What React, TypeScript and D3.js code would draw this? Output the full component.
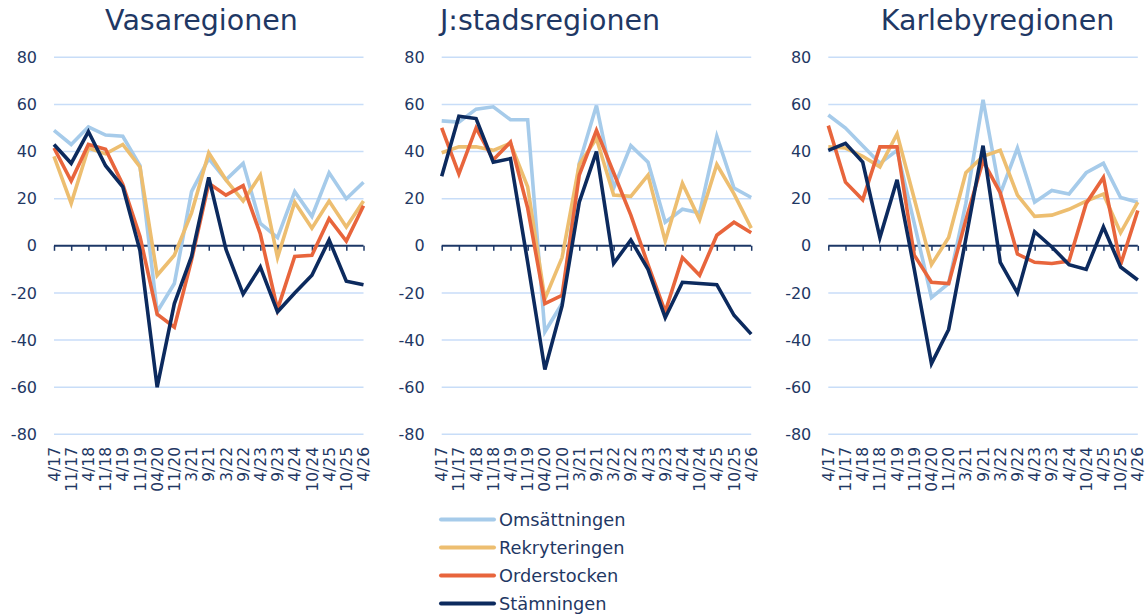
import React, { useEffect, useRef } from 'react'
import * as d3 from 'd3'

// period labels on the x axis (same for all three regions)
const periods = ['4/17', '11/17', '4/18', '11/18', '4/19', '11/19', '04/20', '11/20', '3/21', '9/21',
  '3/22', '9/22', '4/23', '9/23', '4/24', '10/24', '4/25', '10/25', '4/26']

const yTicks = [80, 60, 40, 20, 0, -20, -40, -60, -80]

const seriesNames = ['Omsättningen', 'Rekryteringen', 'Orderstocken', 'Stämningen']
const seriesColors = ['#A6CBEA', '#EDBE70', '#E8653C', '#0C2A5E']

// Vasaregionen
const omsVasa = [49, 43, 50.5, 47, 46.5, 34, -28, -16, 23, 37, 28, 35, 9.5, 3.5, 23, 12.5, 31, 20, 27]
const rekVasa = [38, 18, 41.5, 39, 43, 33.5, -12.5, -4, 14, 39.5, 28, 19, 30, -5, 18.5, 7.5, 19, 8, 19]
const ordVasa = [41.5, 27.5, 43, 41, 26, 4, -29, -34.5, -6, 26.5, 21.5, 25.5, 5, -27, -4.5, -4, 11.5, 2, 17]
const stmVasa = [43, 35, 48.5, 34, 25, -2, -60, -24.5, -4.5, 29, -1.5, -20.5, -9, -28, -20, -12.5, 2.5, -15, -16.5]

// J:stadsregionen
const omsJstad = [53, 52.5, 58, 59, 53.5, 53.5, -36.5, -24.5, 35, 59.5, 24.5, 42.5, 35.5, 10, 15.5, 14, 46.5, 24.5, 20.5]
const rekJstad = [39.5, 42, 42, 40.5, 43.5, 25, -22.5, -5, 34.5, 45.5, 21.5, 21, 30, 2, 26.5, 11, 34.5, 22, 7.5]
const ordJstad = [50, 30.5, 50, 36.5, 44, 16, -24.5, -21, 30, 49, 31, 13, -8, -28, -5, -12.5, 4.5, 10, 5.5]
const stmJstad = [29.5, 55, 54, 35.5, 37, -7, -52.5, -25.5, 18.5, 40, -7.5, 2.5, -10, -30.5, -15.5, -16, -16.5, -29.5, -37.5]

// Karlebyregionen
const omsKarleby = [55.5, 50, 42.5, 35, 40.5, 9.5, -22, -16, 18, 62, 22, 41.5, 18.5, 23.5, 22, 31, 35, 20.5, 18.5]
const rekKarleby = [42, 41.5, 38, 33.5, 47.5, 20, -8, 3.5, 31, 38, 40.5, 21.5, 12.5, 13, 15.5, 19, 22, 5.5, 18.5]
const ordKarleby = [51, 27, 19.5, 42, 42, -4, -15.5, -16, 11, 36, 22.5, -3.5, -7, -7.5, -6.5, 18, 29, -8, 15]
const stmKarleby = [40.5, 43.5, 35.5, 3.5, 28, -10, -50, -35.5, 3, 42.5, -7, -20, 6, -0.5, -8, -10, 8, -9, -14.5]

const panels = [
  { title: 'Vasaregionen', left: 54, titleX: 201.5, series: [omsVasa, rekVasa, ordVasa, stmVasa] },
  { title: 'J:stadsregionen', left: 441.7, titleX: 550, series: [omsJstad, rekJstad, ordJstad, stmJstad] },
  { title: 'Karlebyregionen', left: 828.3, titleX: 997.5, series: [omsKarleby, rekKarleby, ordKarleby, stmKarleby] },
]

const textColor = '#1F3864'
const font = 'DejaVu Sans, sans-serif'

export default function App() {
  const ref = useRef<SVGSVGElement>(null)

  useEffect(() => {
    const svg = d3.select(ref.current)
    svg.selectAll('*').remove()

    const plotW = 309.5
    const y = d3.scaleLinear().domain([-80, 80]).range([434.3, 57.3])

    panels.forEach(function (p) {
      const x = d3.scalePoint<string>().domain(periods).range([p.left, p.left + plotW])
      const g = svg.append('g')

      // title
      g.append('text')
        .attr('x', p.titleX)
        .attr('y', 30)
        .attr('text-anchor', 'middle')
        .style('font-family', font)
        .style('font-size', '28.5px')
        .style('fill', textColor)
        .text(p.title)

      // grid lines (zero is drawn as the axis)
      g.selectAll('.grid')
        .data(yTicks.filter(d => d !== 0))
        .enter().append('line')
        .attr('x1', p.left)
        .attr('x2', p.left + plotW)
        .attr('y1', d => y(d))
        .attr('y2', d => y(d))
        .style('stroke', '#C8DDF8')
        .style('stroke-width', 1.5)

      // y tick labels
      g.selectAll('.ylab')
        .data(yTicks)
        .enter().append('text')
        .attr('x', p.left - 17)
        .attr('y', d => y(d))
        .attr('dy', '0.35em')
        .attr('text-anchor', 'end')
        .style('font-family', font)
        .style('font-size', '16px')
        .style('fill', textColor)
        .text(d => d)

      // x axis at zero with ticks pointing down
      const axis = g.append('g').attr('transform', 'translate(0,' + y(0) + ')')
        .call(d3.axisBottom(x).tickSize(5).tickFormat(() => ''))
      axis.select('.domain').attr('d', 'M' + p.left + ',0H' + (p.left + plotW))
        .style('stroke', '#1C3766').style('stroke-width', 2)
      axis.selectAll('.tick line').style('stroke', '#1C3766').style('stroke-width', 1.5)

      // x labels, rotated
      g.selectAll('.xlab')
        .data(periods)
        .enter().append('text')
        .attr('transform', d => 'translate(' + x(d) + ',447) rotate(-90)')
        .attr('text-anchor', 'end')
        .attr('dy', '0.36em')
        .style('font-family', font)
        .style('font-size', '15.5px')
        .style('fill', textColor)
        .text(d => d)

      // lines
      const line = d3.line<number>()
        .x((d, i) => x(periods[i]) as number)
        .y(d => y(d))

      p.series.forEach(function (s, k) {
        g.append('path')
          .datum(s)
          .attr('d', line)
          .style('fill', 'none')
          .style('stroke', seriesColors[k])
          .style('stroke-width', 3.6)
      })
    })

    // legend
    const legend = svg.append('g')
    seriesNames.forEach(function (name, k) {
      const ly = 519.5 + k * 28
      legend.append('line')
        .attr('x1', 441).attr('x2', 494)
        .attr('y1', ly).attr('y2', ly)
        .style('stroke', seriesColors[k])
        .style('stroke-width', 4)
        .style('stroke-linecap', 'round')
      legend.append('text')
        .attr('x', 499)
        .attr('y', ly)
        .attr('dy', '0.35em')
        .style('font-family', font)
        .style('font-size', '17.8px')
        .style('fill', textColor)
        .text(name)
    })
  }, [])

  return (
    <div style={{ position: 'absolute', left: 0, top: 0 }}>
      <svg ref={ref} width={1146} height={614} style={{ display: 'block', background: '#fff' }} />
    </div>
  )
}
